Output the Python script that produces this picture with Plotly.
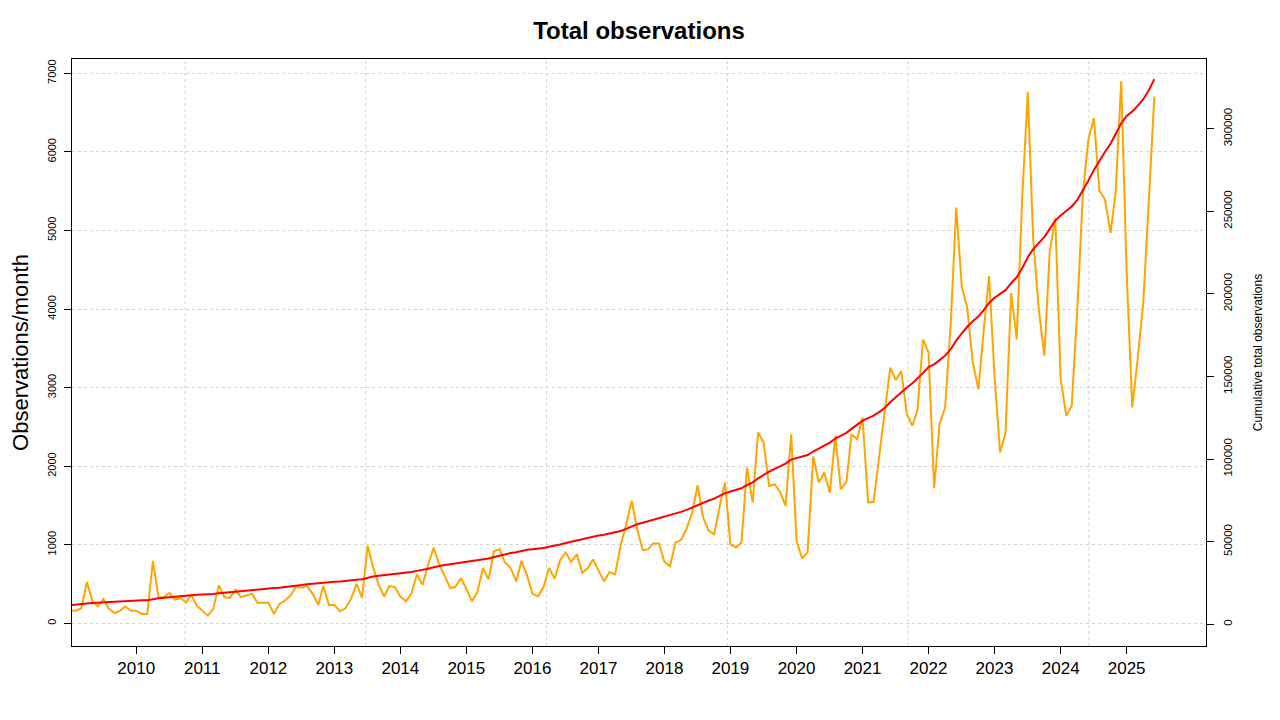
import pandas as pd
import plotly.graph_objects as go

# Monthly observations, May 2009 .. Oct 2025
obs_2009 = [162, 162, 192, 526, 280, 218, 310, 184]  # May-Dec
obs_2010 = [132, 162, 214, 162, 162, 120, 120, 795, 333, 333, 389, 303]
obs_2011 = [320, 269, 363, 226, 162, 98, 184, 483, 333, 325, 427, 333]
obs_2012 = [355, 376, 261, 261, 261, 120, 248, 291, 355, 470, 453, 474]
obs_2013 = [376, 235, 474, 235, 235, 154, 192, 312, 504, 325, 987, 718]
obs_2014 = [491, 342, 474, 461, 340, 282, 376, 624, 491, 739, 962, 761]
obs_2015 = [611, 449, 462, 577, 440, 282, 397, 705, 560, 919, 945, 774]
obs_2016 = [705, 534, 795, 611, 376, 346, 462, 705, 568, 803, 902, 782]
obs_2017 = [880, 645, 697, 812, 675, 534, 654, 624, 996, 1252, 1560, 1200]
obs_2018 = [932, 945, 1017, 1017, 782, 727, 1030, 1060, 1210, 1402, 1757, 1347]
obs_2019 = [1178, 1136, 1475, 1792, 1008, 966, 1030, 1983, 1538, 2428, 2301, 1750]
obs_2020 = [1771, 1665, 1496, 2407, 1051, 826, 903, 2123, 1792, 1919, 1665, 2386]
obs_2021 = [1708, 1801, 2407, 2343, 2619, 1538, 1547, 2131, 2682, 3254, 3097, 3212]
obs_2022 = [2662, 2514, 2725, 3613, 3444, 1720, 2535, 2746, 3825, 5293, 4290, 4015]
obs_2023 = [3317, 2979, 3698, 4420, 3148, 2175, 2429, 4205, 3613, 5400, 6760, 4885]
obs_2024 = [3997, 3405, 4716, 5160, 3108, 2643, 2770, 3997, 5477, 6154, 6430, 5510]
obs_2025 = [5393, 4970, 5477, 6900, 4462, 2749, 3362, 4081, 5393, 6704]  # Jan-Oct

cumulative_before = 11500

first_month = "2009-05-01"
last_month = "2025-10-01"

year_labels = [str(y) for y in range(2010, 2026)]
year_tick_dates = [f"{y}-05-01" for y in range(2010, 2026)]
# background vertical grid (every 1000 days, as in the source)
vgrid_dates = ["2011-01-26", "2013-10-22", "2016-07-18", "2019-04-14", "2022-01-08", "2024-10-04"]

left_ticks = list(range(0, 8000, 1000))
right_ticks = list(range(0, 350000, 50000))

monthly = (obs_2009 + obs_2010 + obs_2011 + obs_2012 + obs_2013 + obs_2014 + obs_2015
           + obs_2016 + obs_2017 + obs_2018 + obs_2019 + obs_2020 + obs_2021 + obs_2022
           + obs_2023 + obs_2024 + obs_2025)
dates = pd.date_range(first_month, last_month, freq="MS")
cumulative = pd.Series(monthly).cumsum() + cumulative_before

FONT = "Liberation Sans, Arial, sans-serif"
W, H = 1272, 712  # page body has an 8px margin

fig = go.Figure()
fig.add_trace(go.Scatter(x=dates, y=monthly, mode="lines",
                         line=dict(color="orange", width=2), yaxis="y",
                         showlegend=False))
fig.add_trace(go.Scatter(x=dates, y=cumulative, mode="lines",
                         line=dict(color="red", width=2), yaxis="y2",
                         showlegend=False))

shapes = []
for d in vgrid_dates:
    shapes.append(dict(type="line", xref="x", yref="paper", x0=d, x1=d, y0=0, y1=1,
                       line=dict(color="#d3d3d3", width=1, dash="dot"), layer="below"))

fig.update_layout(
    width=W, height=H,
    margin=dict(l=64, r=74, t=51, b=74, autoexpand=False),
    paper_bgcolor="white", plot_bgcolor="white",
    font=dict(family=FONT, color="black"),
    title=dict(text="<b>Total observations</b>", x=(639 - 8) / W, xanchor="center",
               y=1 - 23 / H, yanchor="middle", font=dict(size=24, family=FONT, color="black")),
    shapes=shapes,
    xaxis=dict(type="date", range=["2009-05-10 14:00", "2026-07-14"],
               tickvals=year_tick_dates, ticktext=year_labels,
               ticks="outside", ticklen=7, tickcolor="black", tickwidth=1,
               tickfont=dict(size=17, family=FONT, color="black"),
               showline=True, linecolor="black", linewidth=1, mirror=True,
               showgrid=False, zeroline=False),
    yaxis=dict(range=[-288, 7182], tickvals=left_ticks,
               ticktext=[str(v) for v in left_ticks], tickangle=-90,
               ticks="outside", ticklen=7, tickcolor="black",
               tickfont=dict(size=11, family=FONT, color="black"),
               ticklabelstandoff=4,
               showline=True, linecolor="black", linewidth=1, mirror=True,
               showgrid=True, gridcolor="#d3d3d3", griddash="dot", gridwidth=1,
               zeroline=False,
               title=dict(text="Observations/month", font=dict(size=22, family=FONT, color="black"),
                          standoff=12)),
    yaxis2=dict(range=[-13135, 342170], overlaying="y", side="right",
                tickvals=right_ticks, ticktext=[str(v) for v in right_ticks], tickangle=-90,
                ticks="outside", ticklen=7, tickcolor="black",
                tickfont=dict(size=11.5, family=FONT, color="black"),
                ticklabelstandoff=4,
                showline=True, linecolor="black", linewidth=1,
                showgrid=False, zeroline=False,
                title=dict(text="Cumulative total observations",
                           font=dict(size=12, family=FONT, color="black"), standoff=20)),
)

fig.write_html("out.html")
